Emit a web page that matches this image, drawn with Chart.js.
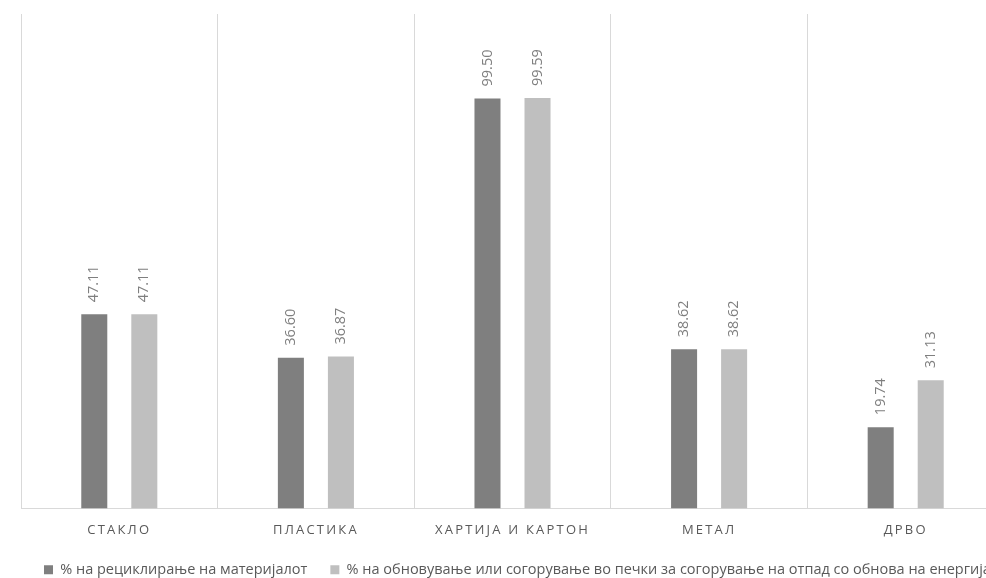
<!DOCTYPE html>
<html>
<head>
<meta charset="utf-8">
<script src="https://cdn.jsdelivr.net/npm/chart.js@4/dist/chart.umd.min.js"></script>
<style>
  html, body { margin: 0; padding: 0; overflow: hidden; background: #ffffff; width: 986px; height: 578px; }
  #wrap { position: absolute; left: 0; top: 0; width: 1040px; height: 587px; }
</style>
</head>
<body>
<div id="wrap"><canvas id="c" width="1040" height="587"></canvas></div>
<script>
const categories = ["СТАКЛО", "ПЛАСТИКА", "ХАРТИЈА И КАРТОН", "МЕТАЛ", "ДРВО"];
const seriesNames = [
  "% на рециклирање на материјалот",
  "% на обновување или согорување во печки за согорување на отпад со обнова на енергија"
];
const recyclingValues = [47.11, 36.60, 99.50, 38.62, 19.74];
const recoveryValues  = [47.11, 36.87, 99.59, 38.62, 31.13];
const yMin = 0;
const yMax = 120;

const FONT = "'Open Sans', 'Liberation Sans', sans-serif";

const labelPlugin = {
  id: 'valueLabels',
  beforeDraw(chart) { chart.ctx.letterSpacing = '0px'; },
  afterDatasetsDraw(chart) {
    const ctx = chart.ctx;
    ctx.save();
    ctx.letterSpacing = '0px';
    ctx.fillStyle = '#7f7f7f';
    ctx.font = '14.5px ' + FONT;
    ctx.textAlign = 'left';
    ctx.textBaseline = 'middle';
    chart.data.datasets.forEach((ds, di) => {
      const meta = chart.getDatasetMeta(di);
      meta.data.forEach((bar, i) => {
        ctx.save();
        ctx.translate(bar.x, bar.y - 12);
        ctx.rotate(-Math.PI / 2);
        ctx.fillText(Number(ds.data[i]).toFixed(2), 0, 0);
        ctx.restore();
      });
    });
    ctx.restore();
    // x tick labels (z:1) are drawn after this with letter spacing
    ctx.letterSpacing = '2.2px';
  },
  afterDraw(chart) { chart.ctx.letterSpacing = '0px'; }
};

new Chart(document.getElementById('c'), {
  type: 'bar',
  data: {
    labels: categories,
    datasets: [
      { label: seriesNames[0], data: recyclingValues, backgroundColor: '#7f7f7f' },
      { label: seriesNames[1], data: recoveryValues, backgroundColor: '#bfbfbf' }
    ]
  },
  options: {
    responsive: false,
    animation: false,
    devicePixelRatio: 1,
    layout: { padding: { left: 21, right: 0, top: 14, bottom: 0 } },
    datasets: { bar: { categoryPercentage: 0.509, barPercentage: 0.52 } },
    scales: {
      x: {
        offset: true,
        grid: { display: true, offset: true, color: '#d9d9d9', lineWidth: 1, drawTicks: false },
        border: { display: true, color: '#d9d9d9', width: 1 },
        ticks: {
          z: 1,
          color: '#595959',
          font: { family: FONT, size: 13 },
          padding: 14,
          autoSkip: false,
          maxRotation: 0,
          minRotation: 0
        },
        afterFit(scale) { scale.height = 31; }
      },
      y: {
        display: true,
        position: 'right',
        min: yMin,
        max: yMax,
        grid: { display: false, drawTicks: false },
        border: { display: false },
        ticks: { display: false },
        afterFit(scale) { scale.width = 36; }
      }
    },
    plugins: {
      legend: {
        display: true,
        position: 'bottom',
        align: 'start',
        labels: {
          color: '#595959',
          font: { family: FONT, size: 14.5 },
          boxWidth: 9,
          boxHeight: 9,
          padding: 23
        }
      },
      tooltip: { enabled: false }
    }
  },
  plugins: [labelPlugin]
});
</script>
</body>
</html>
